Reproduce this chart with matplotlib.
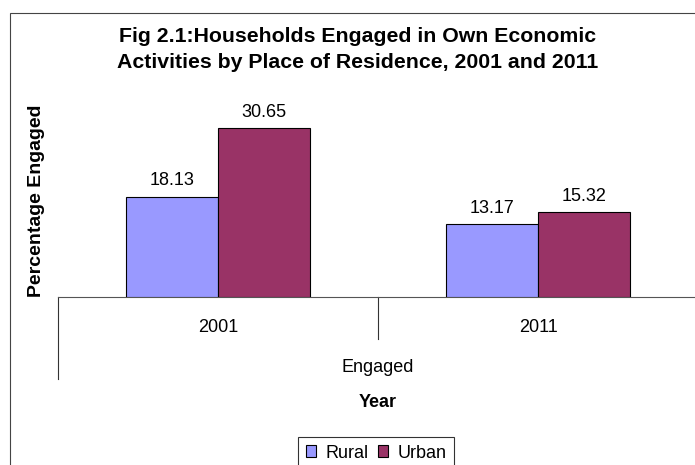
import matplotlib
matplotlib.use("Agg")
import matplotlib.pyplot as plt
import matplotlib.transforms as mtransforms
from matplotlib.lines import Line2D
from matplotlib.patches import Rectangle, Patch
import numpy as np

# Data
years = ["2001", "2011"]
group_label = "Engaged"
series_names = ["Rural", "Urban"]
rural = [18.13, 13.17]
urban = [30.65, 15.32]
series_colors = ["#9999FF", "#993366"]

title_lines = ["Fig 2.1:Households Engaged in Own Economic",
               "Activities by Place of Residence, 2001 and 2011"]
y_label = "Percentage Engaged"
x_label = "Year"

plt.rcParams["font.family"] = ["Liberation Sans", "DejaVu Sans"]

W, H = 695, 465
fig = plt.figure(figsize=(W / 100, H / 100), dpi=100)
fig.patch.set_facecolor("white")


def fx(px):
    return px / W


def fy(py):
    return 1 - py / H


# Plot area (pixel geometry)
left_px, right_px = 58, 698
base_px = 296.5
ymax = 35.0
px_per_unit = 5.51
top_px = base_px - ymax * px_per_unit
ax = fig.add_axes([fx(left_px), fy(base_px), (right_px - left_px) / W,
                   (base_px - top_px) / H])
ax.set_xlim(-0.5, 1.5)
ax.set_ylim(0, ymax)
ax.set_facecolor("none")
for s in ("left", "top", "right"):
    ax.spines[s].set_visible(False)
ax.spines["bottom"].set_color("#555555")
ax.spines["bottom"].set_linewidth(0.8)
ax.set_xticks([])
ax.set_yticks([])

x = np.arange(len(years))
w = 0.2875
for i, (vals, col, name) in enumerate(zip([rural, urban], series_colors, series_names)):
    offs = (i - 0.5) * w
    ax.bar(x + offs, vals, w, color=col, edgecolor="black",
           linewidth=0.8, label=name, zorder=3)
    for xi, v in zip(x, vals):
        ax.annotate(f"{v:.2f}", (xi + offs, v), xytext=(0, 8),
                    textcoords="offset points", ha="center", va="baseline",
                    fontsize=13, color="black")

# Category labels and multi-level axis lines
bt = mtransforms.blended_transform_factory(ax.transData, fig.transFigure)
for xi, lab in zip(x, years):
    ax.text(xi, fy(328), lab, transform=bt, ha="center", va="center",
            fontsize=13)
ax.text(0.5, fy(367), group_label, transform=bt, ha="center", va="center",
        fontsize=13)
ax.add_line(Line2D([-0.5, -0.5], [fy(base_px), fy(379)], transform=bt,
                   color="#333333", linewidth=0.8, clip_on=False))
ax.add_line(Line2D([0.5, 0.5], [fy(base_px), fy(339)], transform=bt,
                   color="#333333", linewidth=0.8, clip_on=False))

# Axis titles
fig.text(fx(378), fy(402), x_label, ha="center", va="center",
         fontsize=13, fontweight="bold")
fig.text(fx(37), fy(201), y_label, ha="center", va="center",
         rotation=90, fontsize=14, fontweight="bold")

# Chart title
fig.text(fx(358), fy(41.7), title_lines[0], ha="center", va="baseline",
         fontsize=15.3, fontweight="bold")
fig.text(fx(358), fy(68), title_lines[1], ha="center", va="baseline",
         fontsize=15.3, fontweight="bold")

# Chart frame
fig.patches.append(Rectangle((fx(10), -0.2), 1.2, fy(13) + 0.2,
                             transform=fig.transFigure, fill=False,
                             edgecolor="#444444", linewidth=0.8))

# Legend
handles = [Patch(facecolor=c, edgecolor="black", linewidth=0.8, label=n)
           for c, n in zip(series_colors, series_names)]
leg = fig.legend(handles=handles, loc="center",
                 bbox_to_anchor=(fx(376), fy(453)), ncol=2, fontsize=13,
                 frameon=True, fancybox=False, shadow=False,
                 handlelength=0.6, handleheight=0.6, handletextpad=0.5,
                 columnspacing=0.5, borderpad=0.4, borderaxespad=0)
leg.get_frame().set_edgecolor("black")
leg.get_frame().set_linewidth(0.8)

fig.savefig("out.png", dpi=100)
